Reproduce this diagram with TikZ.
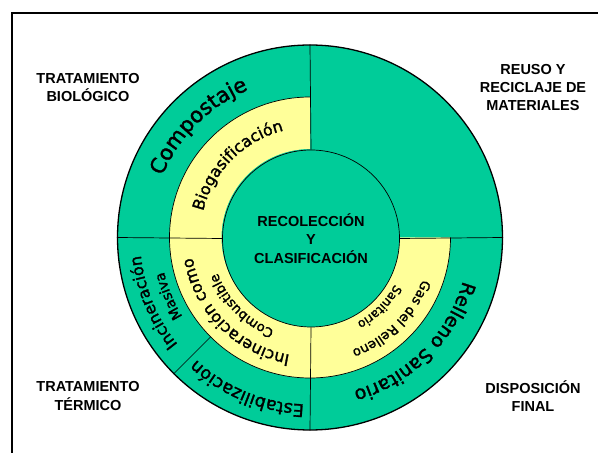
\documentclass[tikz,border=0pt]{standalone}
\usepackage{fontspec}
\setmainfont{Liberation Sans}
\newfontfamily\ringfont{DejaVu Sans}[FakeBold=1.6]
\usetikzlibrary{decorations.text,calc}
\definecolor{ringgreen}{HTML}{00CC99}
\definecolor{ringyellow}{HTML}{FFFF99}
\begin{document}
\begin{tikzpicture}[x=1pt,y=1pt,
  outlabel/.style={font=\bfseries\fontsize{14.5}{18.3}\selectfont, align=center, text=black, inner sep=0pt},
  divider/.style={line width=0.7pt, draw=black},
  ringtext/.style={decorate, decoration={text along path, text align=center, text={#1}}}
]
\useasboundingbox (0,0) rectangle (598,453);
\clip (0,0) rectangle (598,453);
\fill[white] (0,0) rectangle (598,453);
% frame
\draw[line width=2pt] (12,-20) -- (12,440) -- (620,440);
% rings
\coordinate (C) at (310,215.5);
\node[circle, minimum size=385pt, inner sep=0pt, fill=ringgreen, draw=black, line width=1.3pt] (outer) at (C) {};
\fill[ringyellow] ([shift={(90:140.5)}]C) arc[start angle=90, end angle=360, radius=140.5]
  -- ([shift={(0:88.5)}]C) arc[start angle=360, end angle=90, radius=88.5] -- cycle;
\draw[divider] ([shift={(90:140.5)}]C) coordinate (midtop) arc[start angle=90, end angle=360, radius=140.5] coordinate (midright);
\coordinate (midsw) at ([shift={(225:140.5)}]C);
\node[circle, minimum size=177pt, inner sep=0pt, fill=ringgreen, draw=black, line width=0.7pt,
  font=\bfseries\fontsize{14.5}{18.3}\selectfont, align=center] (center) at ([shift={(1,-1)}]C)
  {RECOLECCIÓN\\Y\\CLASIFICACIÓN};
\draw[divider] (outer.north) -- (center.north);
\draw[divider] (outer.west) -- (center.west);
\draw[divider] (center.east) -- (outer.east);
\draw[divider] (center.south) -- (outer.south);
\draw[divider] (midsw) -- (outer.225);
% ring texts
\path[ringtext={|\ringfont\fontsize{21}{25}\selectfont|Compostaje}]
  ([shift={(178:160)}]C) arc[start angle=178, end angle=92, radius=160];
\path[ringtext={|\ringfont\fontsize{16}{20}\selectfont|Biogasificación}]
  ([shift={(178:110)}]C) arc[start angle=178, end angle=92, radius=110];
\path[ringtext={|\ringfont\fontsize{16}{20}\selectfont|Incineración}]
  ([shift={(224:170)}]C) arc[start angle=224, end angle=181, radius=170];
\path[ringtext={|\ringfont\fontsize{14}{18}\selectfont|Masiva}]
  ([shift={(224:150)}]C) arc[start angle=224, end angle=181, radius=150];
\path[ringtext={|\ringfont\fontsize{17.5}{20}\selectfont|Estabilización}]
  ([shift={(269:167)}]C) arc[start angle=269, end angle=226, radius=167];
\path[ringtext={|\ringfont\fontsize{19}{22}\selectfont|Relleno Sanitario}]
  ([shift={(359:159)}]C) arc[start angle=359, end angle=271, radius=159];
\path[ringtext={|\ringfont\fontsize{16}{20}\selectfont|Incineración como}]
  ([shift={(269:119)}]C) arc[start angle=269, end angle=181, radius=119];
\path[ringtext={|\ringfont\fontsize{13.2}{15}\selectfont|Combustible}]
  ([shift={(269:99)}]C) arc[start angle=269, end angle=181, radius=99];
\path[ringtext={|\ringfont\fontsize{13.2}{15}\selectfont|Gas del Relleno}]
  ([shift={(359:120)}]C) arc[start angle=359, end angle=271, radius=120];
\path[ringtext={|\ringfont\fontsize{12.2}{14}\selectfont|Sanitario}]
  ([shift={(359:97)}]C) arc[start angle=359, end angle=271, radius=97];
% outer labels
\node[outlabel] (bio) at (88,365.5) {TRATAMIENTO\\BIOLÓGICO};
\node[outlabel] (reuso) at (533,365.5) {REUSO Y\\RECICLAJE DE\\MATERIALES};
\node[outlabel] (term) at (88,57) {TRATAMIENTO\\TÉRMICO};
\node[outlabel] (disp) at (533,57) {DISPOSICIÓN\\FINAL};
\end{tikzpicture}
\end{document}
